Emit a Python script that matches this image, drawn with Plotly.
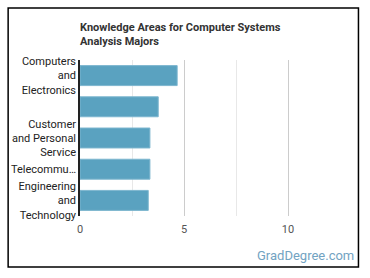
import plotly.graph_objects as go

categories = [
    "Computers<br>and<br>Electronics",
    " ",
    "Customer<br>and Personal<br>Service",
    "Telecommu…",
    "Engineering<br>and<br>Technology",
]
values = [4.67, 3.76, 3.36, 3.36, 3.28]
x_tick_vals = [0, 5, 10]
x_tick_text = ["0", "5", "10"]
title_text = "<b>Knowledge Areas for Computer Systems<br>Analysis Majors</b>"
watermark = "GradDegree.com"

W, H = 370, 278
L, R, T, B = 80, 31.5, 60, 62
pw = W - L - R
ph = H - T - B

def px_x(x):
    return (x - L) / pw

def px_y(y):
    return (H - B - y) / ph

fig = go.Figure(
    go.Bar(
        x=values,
        y=categories,
        orientation="h",
        marker=dict(color="#5aa2c0", line=dict(color="#7db6cf", width=1)),
        hoverinfo="skip",
    )
)

fig.update_layout(
    width=W,
    height=H,
    margin=dict(l=L, r=R, t=T, b=B, pad=0),
    paper_bgcolor="white",
    plot_bgcolor="white",
    showlegend=False,
    bargap=0.36,
    font=dict(family="Roboto", size=11, color="#222"),
    xaxis=dict(
        range=[0, 12.4],
        tickvals=x_tick_vals,
        ticktext=x_tick_text,
        showgrid=True,
        gridcolor="#cccccc",
        gridwidth=1,
        zeroline=False,
        showline=False,
        ticks="",
        ticklabelstandoff=5,
        tickfont=dict(family="Roboto", size=11, color="#555"),
        minor=dict(dtick=2.5, tick0=0, showgrid=True, gridcolor="#e8e8e8", gridwidth=1),
        fixedrange=True,
    ),
    yaxis=dict(
        autorange="reversed",
        showline=True,
        linecolor="#222",
        linewidth=1.5,
        ticks="",
        showgrid=False,
        tickfont=dict(family="Roboto", size=11, color="#222"),
        fixedrange=True,
    ),
    annotations=[
        dict(
            text=title_text,
            xref="paper", yref="paper",
            x=px_x(78), y=px_y(19),
            xanchor="left", yanchor="top",
            align="left",
            showarrow=False,
            font=dict(family="Roboto", size=11, color="#333"),
        ),
        dict(
            text=watermark,
            xref="paper", yref="paper",
            x=px_x(357), y=px_y(255),
            xanchor="right", yanchor="middle",
            showarrow=False,
            font=dict(family="Roboto", size=13, color="#72a3c2"),
        ),
    ],
    shapes=[
        dict(
            type="rect",
            xref="paper", yref="paper",
            x0=px_x(8), x1=px_x(359),
            y0=px_y(267), y1=px_y(8),
            line=dict(color="black", width=1.5),
            fillcolor="rgba(0,0,0,0)",
            layer="above",
        )
    ],
)

fig.write_html("out.html")
